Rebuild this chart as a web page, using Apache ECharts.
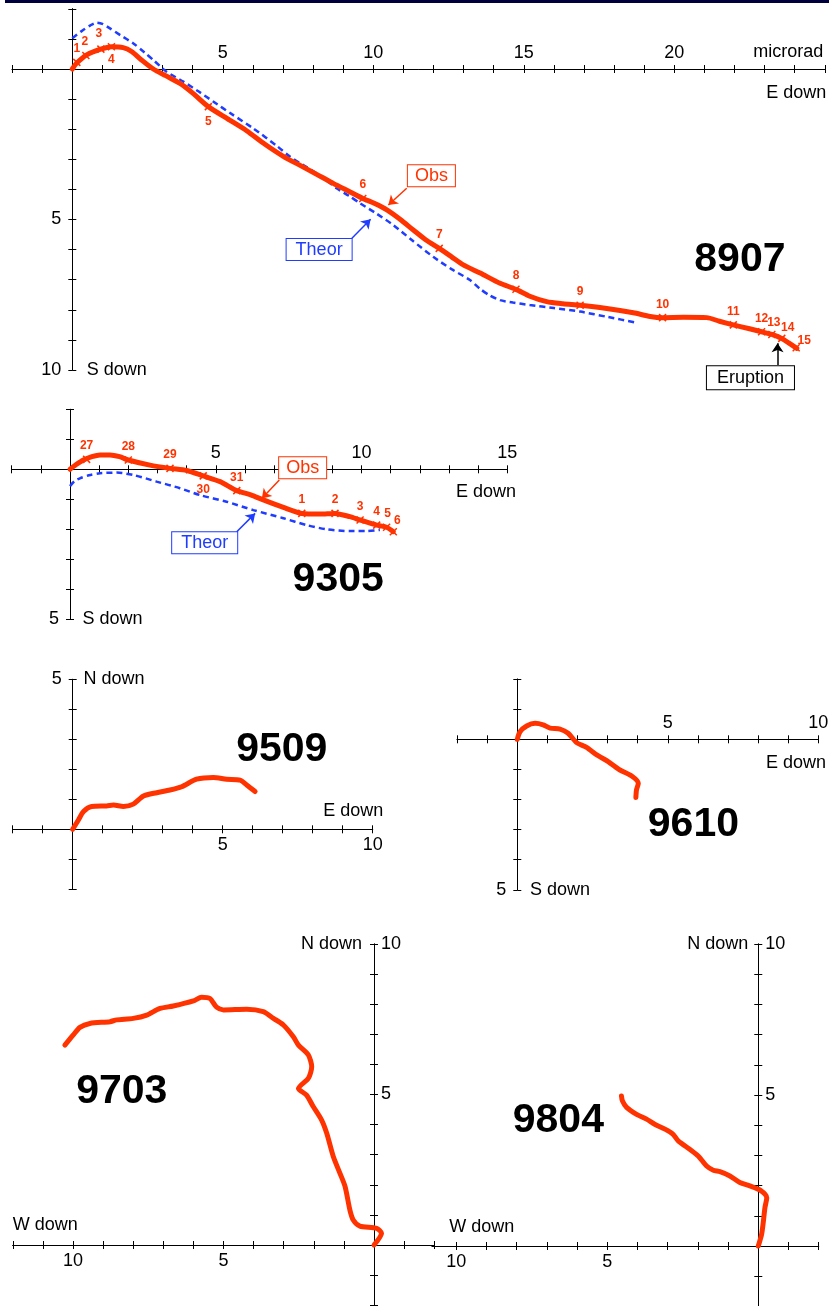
<!DOCTYPE html>
<html>
<head>
<meta charset="utf-8">
<script src="https://cdn.jsdelivr.net/npm/echarts@6/dist/echarts.min.js"></script>
<style>
  html, body { margin: 0; padding: 0; background: #ffffff; }
  #chart { width: 829px; height: 1306px; }
</style>
</head>
<body>
<div id="chart"></div>
<script>
// ---------- Tilt vectors (microrad). x = E down (or W down), y = S down (or N down) ----------

// 8907
const obs8907 = [[0,0],[0.14,-0.19],[0.48,-0.47],[0.92,-0.65],[1.31,-0.74],[1.69,-0.71],[1.97,-0.58],[2.3,-0.3],[2.69,0],[3.1,0.22],[3.58,0.48],[4.0,0.8],[4.52,1.25],[5.15,1.65],[5.79,2.05],[6.4,2.5],[7.01,2.9],[7.6,3.22],[8.12,3.5],[8.67,3.8],[9.2,4.07],[9.65,4.3],[10.05,4.47],[10.45,4.68],[10.9,5.0],[11.33,5.35],[11.75,5.68],[12.19,5.96],[12.6,6.24],[12.99,6.51],[13.55,6.78],[14.21,7.12],[14.74,7.32],[15.2,7.55],[15.76,7.73],[16.3,7.8],[16.87,7.85],[17.7,7.95],[18.64,8.1],[19.2,8.22],[19.61,8.26],[20.3,8.25],[21.08,8.26],[21.5,8.38],[21.96,8.5],[22.5,8.63],[22.9,8.73],[23.24,8.82],[23.57,8.95],[23.8,9.1],[24.07,9.28]];
const theor8907 = [[0,-1.02],[0.3,-1.25],[0.6,-1.45],[0.81,-1.54],[1.0,-1.5],[1.25,-1.35],[1.6,-1.12],[2.03,-0.85],[2.4,-0.55],[2.69,-0.3],[3.13,0.09],[3.69,0.42],[4.2,0.75],[4.68,1.08],[5.3,1.5],[6.01,1.97],[6.79,2.55],[7.23,2.91],[7.67,3.19],[8.2,3.52],[8.78,3.96],[9.2,4.22],[9.56,4.46],[10.1,4.8],[10.66,5.18],[11.3,5.7],[11.99,6.24],[12.6,6.65],[13.21,7.01],[13.54,7.3],[13.88,7.53],[14.21,7.68],[14.64,7.76],[15.2,7.84],[16.0,7.94],[16.87,8.06],[17.8,8.24],[18.75,8.43]];
const markNames8907 = ['1','2','3','4','5','6','7','8','9','10','11','12','13','14','15'];
const markPts8907 = [[0.15,-0.22],[0.45,-0.45],[0.95,-0.66],[1.3,-0.74],[4.52,1.25],[9.65,4.3],[12.19,5.96],[14.74,7.32],[16.87,7.85],[19.61,8.26],[21.96,8.5],[22.9,8.73],[23.24,8.82],[23.57,8.95],[24.05,9.26]];

// 9305
const obs9305 = [[0,0],[0.2,-0.15],[0.46,-0.31],[0.75,-0.42],[1.03,-0.48],[1.37,-0.48],[1.7,-0.42],[2.0,-0.31],[2.74,-0.14],[3.43,-0.03],[4.0,0.04],[4.57,0.22],[5.15,0.41],[5.72,0.71],[6.2,0.85],[6.63,1.02],[7.32,1.27],[7.95,1.47],[8.58,1.49],[9.09,1.47],[9.6,1.58],[9.95,1.69],[10.52,1.86],[10.86,1.93],[11.09,2.08]];
const theor9305 = [[0,0.56],[0.15,0.4],[0.34,0.3],[0.65,0.2],[1.03,0.13],[1.6,0.11],[2.17,0.19],[2.97,0.41],[3.77,0.63],[4.46,0.86],[5.37,1.08],[6.29,1.36],[7.32,1.63],[8.12,1.86],[8.8,2.0],[9.6,2.06],[10.18,2.06],[10.63,2.02]];
const markNames9305 = ['27','28','29','30','31','1','2','3','4','5','6'];
const markPts9305 = [[0.57,-0.33],[2.0,-0.31],[3.43,-0.03],[4.57,0.22],[5.72,0.71],[7.95,1.47],[9.09,1.47],[9.95,1.69],[10.52,1.86],[10.86,1.93],[11.09,2.08]];

// 9509 (y = N down)
const obs9509 = [[0,0],[0.19,0.31],[0.36,0.59],[0.63,0.76],[1.13,0.78],[1.36,0.81],[1.69,0.76],[2.02,0.84],[2.36,1.11],[2.8,1.22],[3.24,1.31],[3.63,1.42],[4.13,1.67],[4.69,1.73],[5.13,1.67],[5.58,1.64],[5.8,1.48],[6.08,1.26]];

// 9610
const obs9610 = [[0,0],[0.09,-0.25],[0.31,-0.44],[0.59,-0.53],[0.86,-0.48],[1.09,-0.37],[1.42,-0.34],[1.69,-0.2],[1.97,0.11],[2.3,0.27],[2.64,0.52],[3.02,0.74],[3.41,1.02],[3.8,1.22],[4.02,1.46],[3.96,1.68],[3.94,1.93]];

// 9703 (x = W down, y = N down)
const obs9703 = [[0,0],[-0.25,0.39],[-0.09,0.55],[0.47,0.63],[0.69,0.83],[0.8,1.16],[0.96,1.94],[1.13,2.38],[1.35,2.93],[1.57,3.71],[1.74,4.15],[2.02,4.6],[2.24,4.98],[2.51,5.2],[2.18,5.54],[2.07,5.92],[2.18,6.31],[2.51,6.64],[2.68,6.92],[3.01,7.31],[3.34,7.53],[3.68,7.75],[4.23,7.83],[5.0,7.81],[5.23,7.9],[5.45,8.19],[5.73,8.23],[6.0,8.11],[6.67,7.94],[7.11,7.86],[7.55,7.64],[8.0,7.53],[8.55,7.48],[8.77,7.42],[9.44,7.36],[9.77,7.23],[9.99,6.98],[10.27,6.64]];

// 9804 (x = W down, y = N down)
const obs9804 = [[0,0],[-0.11,0.39],[-0.17,0.83],[-0.22,1.27],[-0.28,1.6],[-0.06,1.85],[0.28,1.99],[0.61,2.1],[0.94,2.32],[1.27,2.46],[1.49,2.51],[1.71,2.65],[1.99,2.98],[2.27,3.2],[2.65,3.48],[2.82,3.7],[3.09,3.87],[3.43,4.03],[3.7,4.2],[4.03,4.36],[4.36,4.59],[4.5,4.81],[4.53,4.97]];

// Tick label values
const xLabels8907 = [5, 10, 15, 20];
const yLabels8907 = [5, 10];
const xLabels9305 = [5, 10, 15];
const yLabels9305 = [5];
const xLabels9509 = [5, 10];
const yLabels9509 = [5];
const xLabels9610 = [5, 10];
const yLabels9610 = [5];
const xLabels9703 = [10, 5];
const yLabels9703 = [5, 10];
const xLabels9804 = [10, 5];
const yLabels9804 = [5, 10];

// ---------- Styling ----------
const RED = '#ff3300';
const BLUE = '#1f3cff';
const INK = '#000000';
const FONT = '"Liberation Sans", Arial, sans-serif';

function intRange(a, b) {
  const out = [];
  for (let v = Math.ceil(a); v <= b; v++) out.push(v);
  return out;
}

// Each panel: pixel box of its grid, axis ranges, and where tick labels sit.
const panels = [
  { grid: { left: 12.1, top: 8.8, width: 812.7, height: 361.2 },
    x: { min: -2, max: 25, inverse: false, labels: xLabels8907, side: 'top' },
    y: { min: -2, max: 10, inverse: true, labels: yLabels8907, side: 'left' } },
  { grid: { left: 11.7, top: 409.3, width: 495.6, height: 210 },
    x: { min: -2, max: 15, inverse: false, labels: xLabels9305, side: 'top' },
    y: { min: -2, max: 5, inverse: true, labels: yLabels9305, side: 'left' } },
  { grid: { left: 12.7, top: 679.3, width: 360, height: 210 },
    x: { min: -2, max: 10, inverse: false, labels: xLabels9509, side: 'bottom' },
    y: { min: -2, max: 5, inverse: false, labels: yLabels9509, side: 'left' } },
  { grid: { left: 457.1, top: 679.1, width: 361.2, height: 210.7 },
    x: { min: -2, max: 10, inverse: false, labels: xLabels9610, side: 'top' },
    y: { min: -2, max: 5, inverse: true, labels: yLabels9610, side: 'left' } },
  { grid: { left: 12.8, top: 944, width: 421.4, height: 361.2 },
    x: { min: -2, max: 12, inverse: true, labels: xLabels9703, side: 'bottom' },
    y: { min: -2, max: 10, inverse: false, labels: yLabels9703, side: 'right' } },
  { grid: { left: 432.1, top: 944, width: 386.6, height: 362.4 },
    x: { min: -2, max: 10.8, inverse: true, labels: xLabels9804, side: 'bottom' },
    y: { min: -2, max: 10, inverse: false, labels: yLabels9804, side: 'right' } }
];

// where the zero of one axis falls inside the grid, measured from the top / left edge
function zeroFromStart(ax, length, vertical) {
  const span = ax.max - ax.min;
  // vertical axes grow upward unless inverted; horizontal ones grow rightward unless inverted
  const fromMin = (0 - ax.min) / span * length;
  if (vertical) return ax.inverse ? fromMin : length - fromMin;
  return ax.inverse ? length - fromMin : fromMin;
}

const grids = [], xAxes = [], yAxes = [];

panels.forEach((p, gi) => {
  grids.push(Object.assign({ outerBoundsMode: 'none', containLabel: false }, p.grid));
  const zy = zeroFromStart(p.y, p.grid.height, true);   // x axes sit here
  const zx = zeroFromStart(p.x, p.grid.width, false);   // y axes sit here
  // two axes per direction, both moved onto the zero line, so the ticks cross it
  ['bottom', 'top'].forEach(pos => {
    xAxes.push({
      type: 'value', gridIndex: gi, position: pos,
      offset: pos === 'top' ? -zy : -(p.grid.height - zy),
      min: p.x.min, max: p.x.max, inverse: p.x.inverse,
      axisLine: { show: true, onZero: false, lineStyle: { color: INK, width: 1 } },
      axisTick: { show: true, length: 4, customValues: intRange(p.x.min, p.x.max), lineStyle: { color: INK, width: 1 } },
      axisLabel: { show: pos === p.x.side, customValues: p.x.labels, margin: 7,
                   color: INK, fontSize: 18, fontFamily: FONT },
      splitLine: { show: false }
    });
  });
  ['left', 'right'].forEach(pos => {
    yAxes.push({
      type: 'value', gridIndex: gi, position: pos,
      offset: pos === 'left' ? -zx : -(p.grid.width - zx),
      min: p.y.min, max: p.y.max, inverse: p.y.inverse,
      axisLine: { show: true, onZero: false, lineStyle: { color: INK, width: 1 } },
      axisTick: { show: true, length: 4, customValues: intRange(p.y.min, p.y.max), lineStyle: { color: INK, width: 1 } },
      axisLabel: { show: pos === p.y.side, customValues: p.y.labels,
                   margin: pos === 'left' ? 11 : 7,
                   color: INK, fontSize: 18, fontFamily: FONT },
      splitLine: { show: false }
    });
  });
});

const series = [];

function onPanel(gi, s) {
  return Object.assign({ xAxisIndex: 2 * gi, yAxisIndex: 2 * gi, silent: true, animation: false }, s);
}

function obsLine(gi, data) {
  series.push(onPanel(gi, {
    type: 'line', data: data, symbol: 'none', smooth: 0.25, z: 4,
    lineStyle: { color: RED, width: 5, cap: 'round', join: 'round' }
  }));
}

function theorLine(gi, data) {
  series.push(onPanel(gi, {
    type: 'line', data: data, symbol: 'none', smooth: 0.25, z: 3,
    lineStyle: { color: BLUE, width: 2.5, type: [6, 4] }
  }));
}

// numbered date marks along the observed track
function dateMarks(gi, names, pts, placement) {
  series.push(onPanel(gi, {
    type: 'scatter', clip: false, z: 5,
    symbol: 'path://M0,0L10,10M10,0L0,10', symbolSize: 7,
    itemStyle: { color: 'rgba(0,0,0,0)', borderColor: RED, borderWidth: 1.5, opacity: 1 },
    data: pts.map((pt, i) => {
      const pl = placement[names[i]] || {};
      return {
        name: names[i], value: pt,
        label: { position: pl.pos || 'top', offset: pl.off || [0, 0] }
      };
    }),
    label: { show: true, formatter: '{b}', color: RED, fontSize: 12, fontWeight: 'bold',
             fontFamily: FONT, distance: 3 }
  }));
}

// free text anchored in axis units
function texts(gi, items) {
  series.push(onPanel(gi, {
    type: 'scatter', clip: false, z: 6,
    symbolSize: 1, itemStyle: { color: 'rgba(0,0,0,0)', opacity: 1 },
    data: items.map(t => ({
      value: t.at,
      label: Object.assign({ show: true, position: 'inside', formatter: t.text,
        align: t.align || 'center', verticalAlign: 'middle',
        color: INK, fontSize: 18, fontFamily: FONT }, t.style || {})
    }))
  }));
}

function arrows(gi, color, segs) {
  series.push(onPanel(gi, {
    type: 'lines', coordinateSystem: 'cartesian2d', clip: false, z: 6,
    symbol: ['none', 'arrow'], symbolSize: [0, 9],
    lineStyle: { color: color, width: 1.5, opacity: 1, curveness: 0 },
    data: segs.map(s => ({ coords: s }))
  }));
}

const boxRed = { color: RED, backgroundColor: '#ffffff', borderColor: RED, borderWidth: 1, padding: [2, 7, 1, 7] };
const boxBlue = { color: BLUE, backgroundColor: '#ffffff', borderColor: BLUE, borderWidth: 1, padding: [2, 9, 1, 9] };
const boxBlack = { color: INK, backgroundColor: '#ffffff', borderColor: INK, borderWidth: 1, padding: [3, 10, 2, 10] };
const bigNum = { fontSize: 41, fontWeight: 'bold', fontFamily: FONT, color: INK };

// ---- 8907 ----
theorLine(0, theor8907);
obsLine(0, obs8907);
dateMarks(0, markNames8907, markPts8907, {
  '1': { off: [0, 0] }, '2': { off: [-1, -1] }, '3': { off: [-2, -2] },
  '4': { pos: 'bottom' }, '5': { pos: 'bottom', off: [0, 2] },
  '13': { off: [2, 1] }, '14': { off: [6, 3] }, '15': { off: [8, 6] }
});
texts(0, [
  { text: 'microrad', at: [24.95, -0.57], align: 'right' },
  { text: 'E down', at: [25.05, 0.8], align: 'right' },
  { text: 'S down', at: [0.48, 10], align: 'left' },
  { text: 'Obs', at: [11.93, 3.55], style: boxRed },
  { text: 'Theor', at: [8.2, 6.0], style: boxBlue },
  { text: 'Eruption', at: [22.53, 10.26], style: boxBlack },
  { text: '8907', at: [22.18, 6.35], style: bigNum }
]);
arrows(0, RED, [[[11.11, 3.96], [10.5, 4.52]]]);
arrows(0, BLUE, [[[9.29, 5.62], [9.91, 4.99]]]);
arrows(0, INK, [[[23.43, 9.83], [23.43, 9.11]]]);

// ---- 9305 ----
theorLine(1, theor9305);
obsLine(1, obs9305);
dateMarks(1, markNames9305, markPts9305, {
  '30': { pos: 'bottom', off: [0, 1] }, '6': { off: [4, 2] }, '5': { off: [1, 0] }
});
texts(1, [
  { text: 'E down', at: [15.3, 0.75], align: 'right' },
  { text: 'S down', at: [0.43, 5], align: 'left' },
  { text: 'Obs', at: [7.98, -0.05], style: boxRed },
  { text: 'Theor', at: [4.62, 2.45], style: boxBlue },
  { text: '9305', at: [9.2, 3.69], style: bigNum }
]);
arrows(1, RED, [[[7.18, 0.36], [6.58, 0.97]]]);
arrows(1, BLUE, [[[5.72, 2.08], [6.35, 1.47]]]);

// ---- 9509 ----
obsLine(2, obs9509);
texts(2, [
  { text: 'E down', at: [10.35, 0.62], align: 'right' },
  { text: 'N down', at: [0.36, 5], align: 'left' },
  { text: '9509', at: [6.97, 2.64], style: bigNum }
]);

// ---- 9610 ----
obsLine(3, obs9610);
texts(3, [
  { text: 'E down', at: [10.26, 0.8], align: 'right' },
  { text: 'S down', at: [0.42, 5], align: 'left' },
  { text: '9610', at: [5.85, 2.85], style: bigNum }
]);

// ---- 9703 ----
obsLine(4, obs9703);
texts(4, [
  { text: 'W down', at: [12, 0.66], align: 'left' },
  { text: 'N down', at: [0.4, 10], align: 'right' },
  { text: '9703', at: [8.38, 5.09], style: bigNum }
]);

// ---- 9804 ----
obsLine(5, obs9804);
texts(5, [
  { text: 'W down', at: [10.23, 0.63], align: 'left' },
  { text: 'N down', at: [0.33, 10], align: 'right' },
  { text: '9804', at: [6.62, 4.14], style: bigNum }
]);

const chart = echarts.init(document.getElementById('chart'), null, { renderer: 'canvas' });
chart.setOption({
  animation: false,
  backgroundColor: '#ffffff',
  graphic: [{ type: 'rect', left: 5, top: 0, shape: { width: 824, height: 3 }, style: { fill: '#00003c' }, silent: true }],
  grid: grids,
  xAxis: xAxes,
  yAxis: yAxes,
  series: series
});
</script>
</body>
</html>
